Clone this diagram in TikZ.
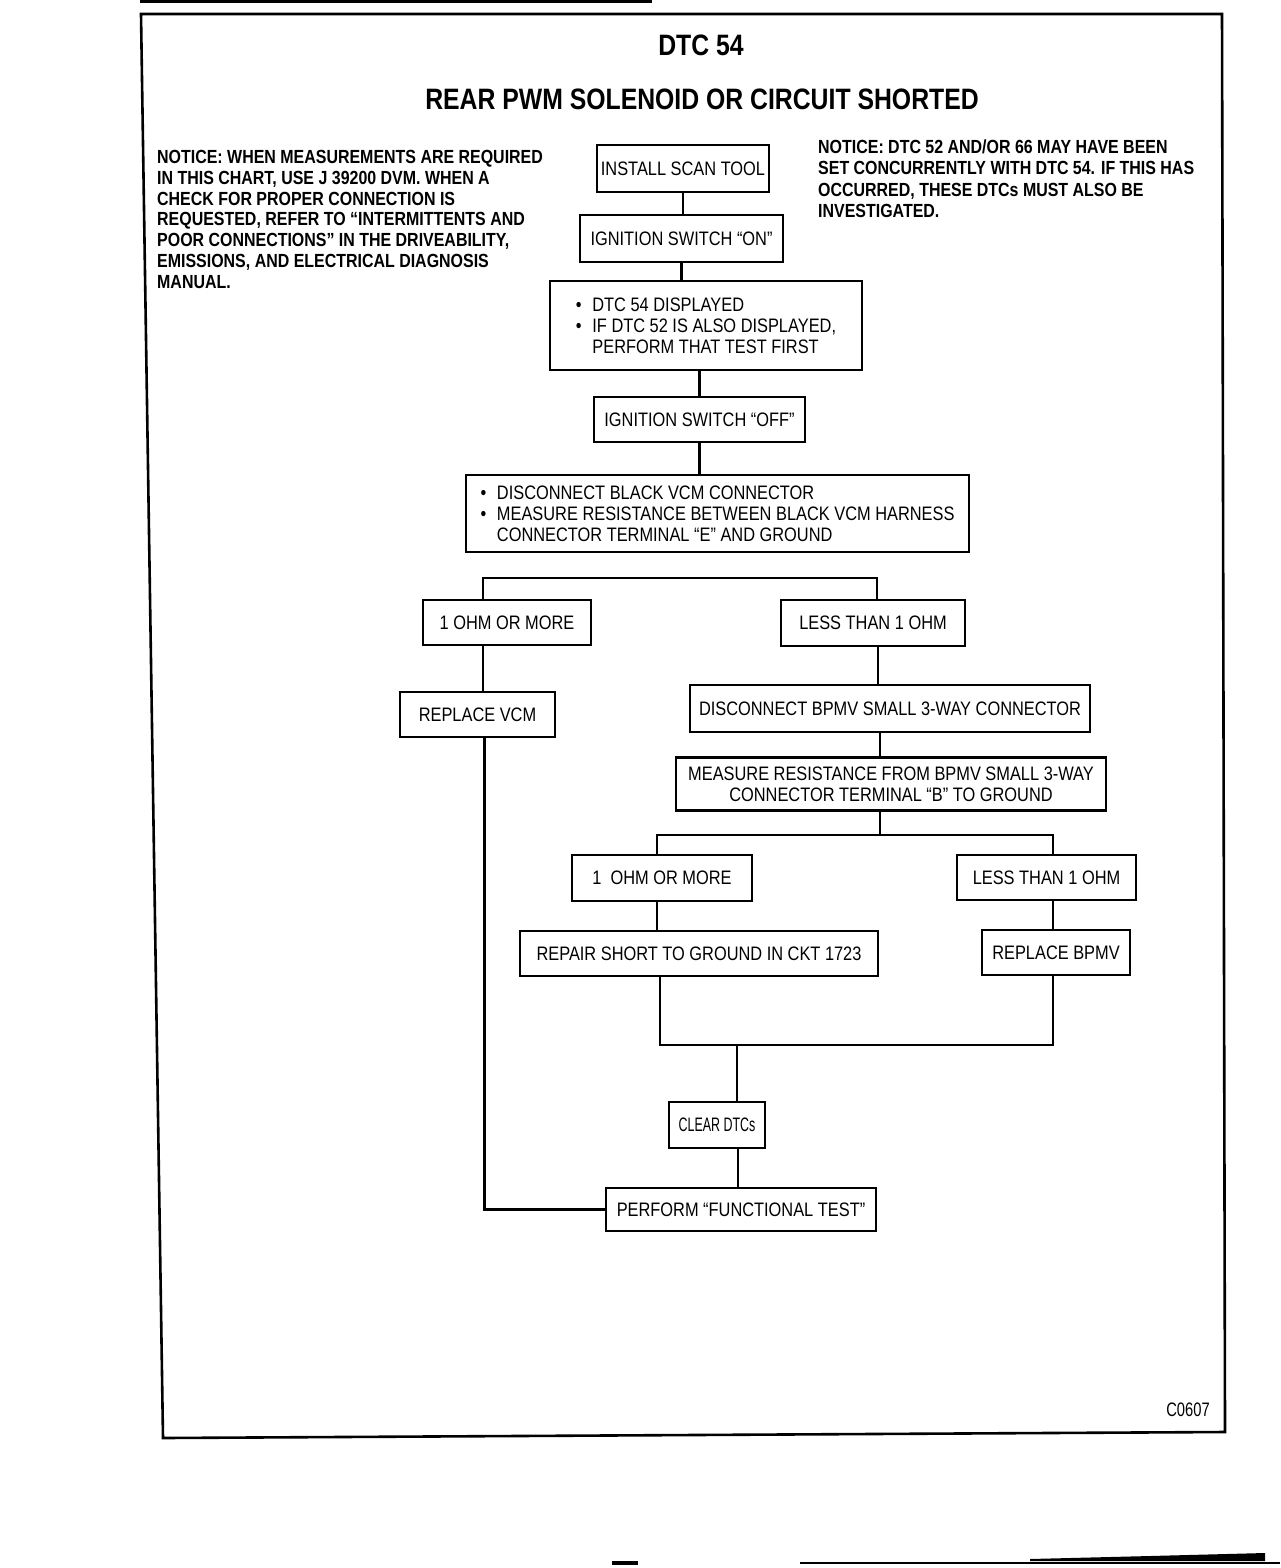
\documentclass[tikz,border=0pt]{standalone}
\usepackage{fontspec}
\usepackage{graphicx}
\setmainfont[FakeStretch=0.84]{Liberation Sans}
\newcommand{\boxfont}{\fontsize{19.5pt}{20.8pt}\selectfont}
\newcommand{\notefont}{\bfseries\fontsize{19pt}{20.8pt}\selectfont}
\newcommand{\titlefont}{\bfseries\fontsize{29.5pt}{32pt}\selectfont}
\newcommand{\bul}{\textbullet\hspace{0.55em}}

\begin{document}
\begin{tikzpicture}[x=1pt,y=-1pt,
  box/.style={draw,line width=2.3pt,inner sep=0pt,align=center,font=\boxfont},
  link/.style={line width=2.3pt},
  note/.style={anchor=north west,inner sep=0pt,align=left,font=\notefont}]
  \useasboundingbox (0,0) rectangle (1280,1568);
  % page frame and scan marks
  \draw[line width=2.6pt] (141,14) -- (1222,14) -- (1225,1432) -- (163,1438) -- cycle;
  \draw[line width=3pt] (140,2) -- (652,2);
  \fill (612,1561) rectangle (638,1565);
  \draw[line width=1.2pt] (800,1563) -- (1280,1563);
  \fill (1030,1559) -- (1150,1556) -- (1265,1553) -- (1265,1561) -- (1030,1561) -- cycle;

  \node[font=\titlefont] (dtc) at (701,45) {DTC 54};
  \node[font=\titlefont] (title) at (702,99) {REAR PWM SOLENOID OR CIRCUIT SHORTED};
  \node[note] (noteL) at (157,150) {NOTICE: WHEN MEASUREMENTS ARE REQUIRED\\
    IN THIS CHART, USE J 39200 DVM. WHEN A\\
    CHECK FOR PROPER CONNECTION IS\\
    REQUESTED, REFER TO ``INTERMITTENTS AND\\
    POOR CONNECTIONS'' IN THE DRIVEABILITY,\\
    EMISSIONS, AND ELECTRICAL DIAGNOSIS\\
    MANUAL.};
  \node[note,font=\bfseries\fontsize{19pt}{21.3pt}\selectfont] (noteR) at (818,139.5)
    {NOTICE: DTC 52 AND/OR 66 MAY HAVE BEEN\\
    SET CONCURRENTLY WITH DTC 54. IF THIS HAS\\
    OCCURRED, THESE DTCs MUST ALSO BE\\
    INVESTIGATED.};

  % main column
  \node[box,minimum width=172pt,minimum height=47pt] (scan) at (683,168.5) {INSTALL SCAN TOOL};
  \node[box,minimum width=203pt,minimum height=47pt] (ignon) at (681.5,238.5) {IGNITION SWITCH ``ON''};
  \node[box,minimum width=312pt,minimum height=89pt,align=left] (dtcdisp) at (706,325.5)
    {\bul DTC 54 DISPLAYED\\ \bul IF DTC 52 IS ALSO DISPLAYED,\\ \phantom{\bul}PERFORM THAT TEST FIRST};
  \node[box,minimum width=211pt,minimum height=45pt] (ignoff) at (699.5,419.5) {IGNITION SWITCH ``OFF''};
  \node[box,minimum width=503pt,minimum height=77pt,align=left] (measvcm) at (717.5,513.5)
    {\bul DISCONNECT BLACK VCM CONNECTOR\\ \bul MEASURE RESISTANCE BETWEEN BLACK VCM HARNESS\\
    \phantom{\bul}CONNECTOR TERMINAL ``E'' AND GROUND};

  % first split
  \node[box,minimum width=168pt,minimum height=45pt] (ohmA) at (507,622.5) {1 OHM OR MORE};
  \node[box,minimum width=184pt,minimum height=46pt] (lessA) at (873,623) {LESS THAN 1 OHM};
  \node[box,minimum width=155pt,minimum height=45pt] (repvcm) at (477.5,714.5) {REPLACE VCM};
  \node[box,minimum width=400pt,minimum height=47pt] (discbpmv) at (890,708.5) {DISCONNECT BPMV SMALL 3-WAY CONNECTOR};
  \node[box,minimum width=430pt,minimum height=53pt] (measbpmv) at (891,784)
    {MEASURE RESISTANCE FROM BPMV SMALL 3-WAY\\ CONNECTOR TERMINAL ``B'' TO GROUND};

  % second split
  \node[box,minimum width=180pt,minimum height=46pt] (ohmB) at (662,878) {1\ \ OHM OR MORE};
  \node[box,minimum width=179pt,minimum height=45pt] (lessB) at (1046.5,877.5) {LESS THAN 1 OHM};
  \node[box,minimum width=358pt,minimum height=45pt] (repshort) at (699,953.5) {REPAIR SHORT TO GROUND IN CKT 1723};
  \node[box,minimum width=148pt,minimum height=45pt] (repbpmv) at (1056,952.5) {REPLACE BPMV};
  \node[box,minimum width=96pt,minimum height=46pt] (clear) at (717,1125) {\scalebox{0.76}[1]{CLEAR DTCs}};
  \node[box,minimum width=270pt,minimum height=43pt] (functest) at (741,1209.5) {PERFORM ``FUNCTIONAL TEST''};

  \node[font=\boxfont] (code) at (1188,1410) {\scalebox{0.9}[1]{C0607}};

  % connectors
  \draw[link] (scan.south) -- (scan.south |- ignon.north);
  \draw[link] (ignon.south) -- (ignon.south |- dtcdisp.north);
  \draw[link] (ignoff.north) -- (ignoff.north |- dtcdisp.south);
  \draw[link] (ignoff.south) -- (ignoff.south |- measvcm.north);
  \draw[link] ([xshift=-24pt]ohmA.north) -- ++(0,-21) -| ([xshift=4pt]lessA.north);
  \draw[link] ([xshift=-24pt]ohmA.south) -- ([xshift=-24pt]ohmA.south |- repvcm.north);
  \draw[link] ([xshift=7pt]repvcm.south) |- (functest.west);
  \draw[link] ([xshift=5pt]lessA.south) -- ([xshift=5pt]lessA.south |- discbpmv.north);
  \draw[link] ([xshift=-10pt]discbpmv.south) -- ([xshift=-10pt]discbpmv.south |- measbpmv.north);
  \draw[link] ([xshift=-11pt]measbpmv.south) -- ++(0,23) coordinate (splitB);
  \draw[link] ([xshift=-5pt]ohmB.north) |- (splitB) -| ([xshift=6.5pt]lessB.north);
  \draw[link] ([xshift=-5pt]ohmB.south) -- ([xshift=-5pt]ohmB.south |- repshort.north);
  \draw[link] ([xshift=6.5pt]lessB.south) -- ([xshift=6.5pt]lessB.south |- repbpmv.north);
  \coordinate (merge) at (737,1045);
  \draw[link] ([xshift=-39pt]repshort.south) |- (merge) -| ([xshift=-3pt]repbpmv.south);
  \draw[link] (merge) -- (merge |- clear.north);
  \draw[link] ([xshift=21pt]clear.south) -- ([xshift=21pt]clear.south |- functest.north);
\end{tikzpicture}
\end{document}
